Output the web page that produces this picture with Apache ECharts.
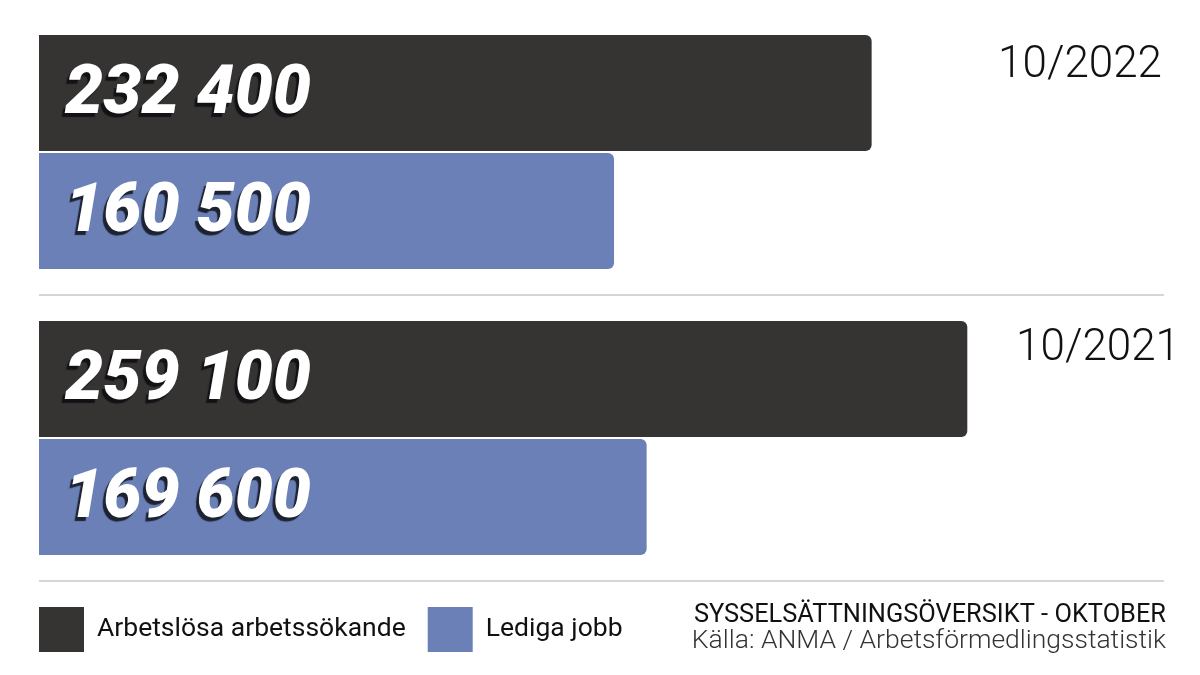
<!DOCTYPE html>
<html>
<head>
<meta charset="utf-8">
<script src="https://cdn.jsdelivr.net/npm/echarts@6/dist/echarts.min.js"></script>
<style>html,body{margin:0;padding:0;background:#fff;}#c{width:1200px;height:675px;}</style>
</head>
<body>
<div id="c"></div>
<script>
const periods = ['10/2022', '10/2021'];
const unemployed = [232400, 259100];
const vacancies = [160500, 169600];
const seriesNames = ['Arbetslösa arbetssökande', 'Lediga jobb'];
const titleText = 'SYSSELSÄTTNINGSÖVERSIKT - OKTOBER';
const sourceText = 'Källa: ANMA / Arbetsförmedlingsstatistik';

const fmt = v => String(v).replace(/\B(?=(\d{3})+(?!\d))/g, ' ');

const barLabel = {
  show: true,
  position: 'insideLeft',
  distance: 26,
  formatter: p => fmt(p.value),
  fontFamily: '"Roboto Black", Roboto',
  fontWeight: 900,
  fontStyle: 'italic',
  fontSize: 68,
  color: '#ffffff',
  textShadowColor: 'rgba(10,10,15,0.8)',
  textShadowOffsetX: -3,
  textShadowOffsetY: 4,
  textShadowBlur: 1
};

const chart = echarts.init(document.getElementById('c'), null, {renderer: 'canvas'});
chart.setOption({
  backgroundColor: '#ffffff',
  animation: false,
  title: {
    left: 1166, top: 603, padding: 0,
    textAlign: 'right',
    text: titleText,
    subtext: sourceText,
    itemGap: 0,
    textStyle: {fontFamily: 'Roboto', fontWeight: 400, fontSize: 25.4, color: '#111111'},
    subtextStyle: {fontFamily: 'Roboto', fontWeight: 300, fontSize: 26.5, color: '#333333'}
  },
  legend: {
    left: 39, top: 607, padding: 0,
    itemWidth: 45, itemHeight: 45, itemGap: 22,
    icon: 'rect',
    data: seriesNames,
    textStyle: {fontFamily: 'Roboto', fontSize: 26.5, color: '#111111', padding: [0, 0, 0, 8]}
  },
  grid: {left: 39, right: 36, top: 9, bottom: 94, containLabel: false},
  xAxis: {
    type: 'value', min: 0, max: 314000, show: false
  },
  yAxis: {
    type: 'category', inverse: true, position: 'right',
    data: periods,
    axisLine: {show: false}, axisTick: {show: false},
    splitLine: {show: true, lineStyle: {color: ['rgba(0,0,0,0)', '#c8c8c8', '#c8c8c8'], width: 1.5}},
    axisLabel: {
      inside: true, margin: -16,
      formatter: (v, i) => i === 0 ? '{a|' + v + '}' : '{b|' + v + '}',
      rich: {
        a: {fontFamily: 'Roboto', fontWeight: 300, fontSize: 44, color: '#111111', padding: [0, 18, 172, 0]},
        b: {fontFamily: 'Roboto', fontWeight: 300, fontSize: 44, color: '#111111', padding: [0, 0, 178, 0]}
      }
    }
  },
  series: [
    {
      name: seriesNames[0], type: 'bar', data: unemployed,
      barWidth: 116, barGap: '1.7%',
      itemStyle: {color: '#363432', borderRadius: [0, 6, 6, 0]},
      label: barLabel
    },
    {
      name: seriesNames[1], type: 'bar', data: vacancies,
      barWidth: 116,
      itemStyle: {color: '#6a80b7', borderRadius: [0, 6, 6, 0]},
      label: barLabel
    }
  ]
});
</script>
</body>
</html>
